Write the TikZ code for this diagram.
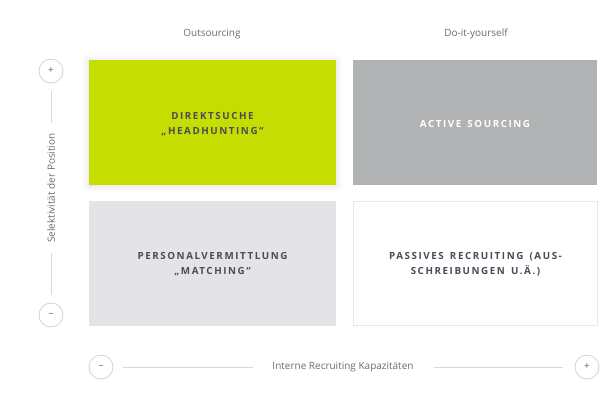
\documentclass[tikz,border=0pt]{standalone}
\usepackage{fontspec}
\setmainfont{Open Sans}
\newfontfamily\boxfont[LetterSpace=16,WordSpace=1.5]{Open Sans Bold}
\usetikzlibrary{shadows.blur}
\definecolor{lime}{HTML}{C5DD00}
\definecolor{midgray}{HTML}{B1B2B4}
\definecolor{lightgray}{HTML}{E4E4E6}
\definecolor{boxtext}{HTML}{4A4B57}
\definecolor{axistext}{HTML}{6C6C6C}
\definecolor{axisline}{HTML}{D8D8D8}
\definecolor{circline}{HTML}{D2D2D2}
\definecolor{whiteedge}{HTML}{E8E8E8}
\tikzset{
  quad/.style={minimum width=247pt, minimum height=125pt, inner sep=0pt},
  quadtext/.style={inner sep=0pt, align=center,
    font=\boxfont\fontsize{9.8}{15}\selectfont, text=boxtext},
  axlabel/.style={font=\fontsize{10}{11}\selectfont, text=axistext, inner sep=0pt},
  axcirc/.style={circle, draw=circline, line width=0.8pt, minimum size=24pt, inner sep=0pt,
    font=\fontsize{10}{10}\selectfont, text=axistext},
  axline/.style={draw=axisline, line width=0.6pt}
}
\begin{document}
\begin{tikzpicture}[x=1pt,y=-1pt]
\useasboundingbox (0,0) rectangle (600,400);
% column headers
\node[axlabel] (hOut) at (212,34) {Outsourcing};
\node[axlabel] (hDiy) at (476,34) {Do-it-yourself};
% quadrants
\node[quad, fill=lime, blur shadow={shadow xshift=0pt, shadow yshift=-1pt, shadow blur radius=7pt, shadow opacity=14}] (q1) at (212.5,122) {};
\node[quad, fill=midgray, minimum width=244pt] (q2) at (475,122) {};
\node[quad, fill=lightgray] (q3) at (212.5,263.5) {};
\node[quad, fill=white, draw=whiteedge, line width=0.8pt, minimum width=244pt, minimum height=124pt] (q4) at (475.5,263.5) {};
\node[quadtext] (t1) at ([yshift=-2pt]q1.center) {DIREKTSUCHE\\„HEADHUNTING“};
\node[quadtext, text=white] (t2) at ([yshift=-1.5pt]q2.center) {ACTIVE SOURCING};
\node[quadtext] (t3) at ([yshift=-1pt]q3.center) {PERSONALVERMITTLUNG\\„MATCHING“};
\node[quadtext] (t4) at ([yshift=-1pt]q4.center) {PASSIVES RECRUITING (AUS-\\SCHREIBUNGEN U.Ä.)};
% vertical axis
\node[axcirc] (vPlus) at (51,71) {+};
\node[axcirc] (vMinus) at (51,315) {–};
\node[axlabel, rotate=90] (vLab) at (51,188) {Selektivität der Position};
\draw[axline, shorten <=8pt, shorten >=10pt] (vPlus) -- (vLab);
\draw[axline, shorten <=10pt, shorten >=8pt] (vLab) -- (vMinus);
% horizontal axis
\node[axcirc] (hMinus) at (101,367) {–};
\node[axcirc] (hPlus) at (587,367) {+};
\node[axlabel] (hLab) at (343,367) {Interne Recruiting Kapazitäten};
\draw[axline, shorten <=10pt, shorten >=19pt] (hMinus) -- (hLab);
\draw[axline, shorten <=20pt, shorten >=12pt] (hLab) -- (hPlus);
\end{tikzpicture}
\end{document}
